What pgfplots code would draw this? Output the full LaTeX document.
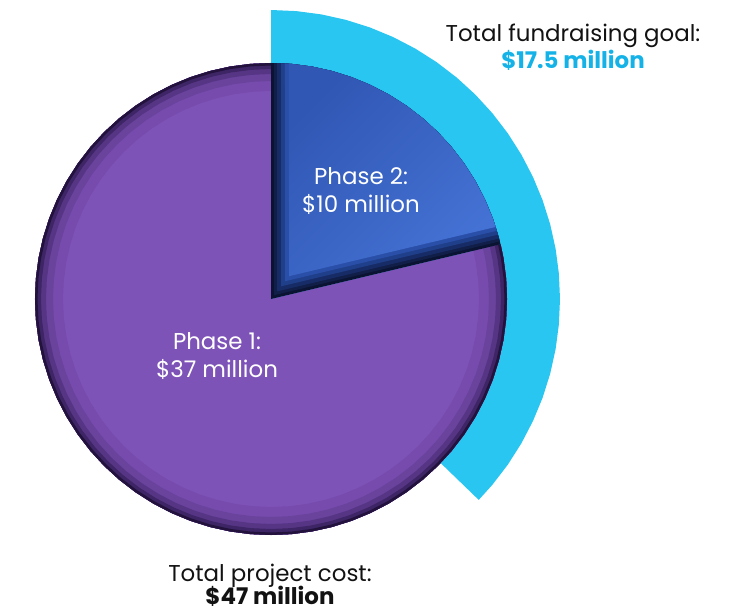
\documentclass[border=0pt]{standalone}
\usepackage{pgfplots}
\usepackage{pgfplotstable}
\pgfplotsset{compat=1.18}
\usepgfplotslibrary{polar}
\usepackage{fontspec}
\setmainfont{Poppins}

\definecolor{ringcyan}{HTML}{28C6F1}
\definecolor{goalcyan}{HTML}{14B2E6}
\definecolor{pl0}{HTML}{7E53B8}
\definecolor{pl1}{HTML}{774BAD}
\definecolor{pl2}{HTML}{6A439D}
\definecolor{pl3}{HTML}{573585}
\definecolor{pl4}{HTML}{3E2566}
\definecolor{pl5}{HTML}{22123C}
\definecolor{bl0}{HTML}{0A1432}
\definecolor{bl1}{HTML}{101E48}
\definecolor{bl2}{HTML}{172C66}
\definecolor{bl3}{HTML}{203F8A}
\definecolor{bl4}{HTML}{2A4FA8}
\definecolor{bl5}{HTML}{3157B4}
\definecolor{bl6}{HTML}{4472D4}

% rim of phase 1 (angle, band radii), darker towards the edge
\pgfplotstableread{
a       r1   r2   r3     r4   r5
90      222  227  230.5  233  234.75
95      222  227  230.5  233  234.75
100     222  227  230.5  233  234.75
105     222  227  230.5  233  234.75
110     222  227  230.5  233  234.75
115     222  227  230.5  233  234.75
120     222  227  230.5  233  234.75
125     222  227  230.5  233  234.75
130     222  227  230.5  233  234.75
135     222  227  230.5  233  234.75
140     222  227  230.5  233  234.75
145     222  227  230.5  233  234.75
150     222  227  230.5  233  234.75
155     222  227  230.5  233  234.75
160     222  227  230.5  233  234.75
165     222  227  230.5  233  234.75
170     222  227  230.5  233  234.75
175     222  227  230.5  233  234.75
180     222  227  230.5  233  234.75
185     222  227  230.5  233  234.75
190     222  227  230.5  233  234.75
195     222  227  230.5  233  234.75
200     222  227  230.5  233  234.75
205     222  227  230.5  233  234.75
210     222  227  230.5  233  234.75
215     222  227  230.5  233  234.75
220     222  227  230.5  233  234.75
225     222  227  230.5  233  234.75
230     222  227  230.5  233  234.75
235     222  227  230.5  233  234.75
240     222  227  230.5  233  234.75
245     222  227  230.5  233  234.75
250     222  227  230.5  233  234.75
255     222  227  230.5  233  234.75
260     222  227  230.5  233  234.75
265     222  227  230.5  233  234.75
270     222  227  230.5  233  234.75
275     222  227  230.5  233  234.75
280     222  227  230.5  233  234.75
285     222  227  230.5  233  234.75
290     222  227  230.5  233  234.75
295     222  227  230.5  233  234.75
300     222  227  230.5  233  234.75
305     222  227  230.5  233  234.75
310     222  227  230.5  233  234.75
315     222  227  230.5  233  234.75
320     222  227  230.5  233  234.75
325     222  227  230.5  233  234.75
330     222  227  230.5  233  234.75
335     222  227  230.5  233  234.75
340     222  227  230.5  233  234.75
345     222  227  230.5  233  234.75
350     222  227  230.5  233  234.75
355     222  227  230.5  233  234.75
360     222  227  230.5  233  234.75
365     222  227  230.5  233  234.75
370     222  227  230.5  233  234.75
373.404 222  227  230.5  233  234.75
}\rimarc

\begin{document}
\begin{tikzpicture}
\begin{axis}[width=736bp, height=611bp, scale only axis, hide axis,
  xmin=-271, xmax=465, ymin=-312, ymax=299, clip=false]

% fundraising goal: 17.5 of 47 -> 90 down to -44.04 deg
\addplot[draw=none, fill=ringcyan, data cs=polar] coordinates {
 (0,0) (90,289) (85,289) (80,289) (75,289) (70,289) (65,289) (60,289)
 (55,289) (50,289) (45,289) (40,289) (35,289) (30,289) (25,289) (20,289)
 (15,289) (10,289) (5,289) (0,289) (-5,289) (-10,289) (-15,289) (-20,289)
 (-25,289) (-30,289) (-35,289) (-40,289) (-44.04,289)};

% phase 1: 37 of 47
\addplot[draw=none, fill=pl0, data cs=polar] coordinates {
 (0,0) (90,236) (95,236) (100,236) (105,236) (110,236) (115,236) (120,236)
 (125,236) (130,236) (135,236) (140,236) (145,236) (150,236) (155,236)
 (160,236) (165,236) (170,236) (175,236) (180,236) (185,236) (190,236)
 (195,236) (200,236) (205,236) (210,236) (215,236) (220,236) (225,236)
 (230,236) (235,236) (240,236) (245,236) (250,236) (255,236) (260,236)
 (265,236) (270,236) (275,236) (280,236) (285,236) (290,236) (295,236)
 (300,236) (305,236) (310,236) (315,236) (320,236) (325,236) (330,236)
 (335,236) (340,236) (345,236) (350,236) (355,236) (360,236) (365,236)
 (370,236) (373.404,236)};
% shaded rim
\addplot[draw=pl1, line width=28bp, data cs=polar] table[x=a, y=r1] {\rimarc};
\addplot[draw=pl2, line width=18bp, data cs=polar] table[x=a, y=r2] {\rimarc};
\addplot[draw=pl3, line width=11bp, data cs=polar] table[x=a, y=r3] {\rimarc};
\addplot[draw=pl4, line width=6bp, data cs=polar] table[x=a, y=r4] {\rimarc};
\addplot[draw=pl5, line width=2.5bp, data cs=polar] table[x=a, y=r5] {\rimarc};

% phase 2: 10 of 47, layered for the bevelled edges
\addplot[draw=none, fill=bl0, data cs=polar] coordinates {
 (0,0) (13.404,236) (15,236) (20,236) (25,236) (30,236) (35,236) (40,236)
 (45,236) (50,236) (55,236) (60,236) (65,236) (70,236) (75,236) (80,236)
 (85,236) (90,236)};
\addplot[draw=none, fill=bl1, data cs=polar] coordinates {
 (51.702,4.84) (14.13,236) (15,236) (20,236) (25,236) (30,236) (35,236)
 (40,236) (45,236) (50,236) (55,236) (60,236) (65,236) (70,236) (75,236)
 (80,236) (85,236) (89.27,236)};
\addplot[draw=none, fill=bl2, data cs=polar] coordinates {
 (51.702,9.68) (14.86,236) (15,236) (20,236) (25,236) (30,236) (35,236)
 (40,236) (45,236) (50,236) (55,236) (60,236) (65,236) (70,236) (75,236)
 (80,236) (85,236) (88.54,236)};
\addplot[draw=none, fill=bl3, data cs=polar] coordinates {
 (51.702,16.14) (15.83,236) (20,236) (25,236) (30,236) (35,236) (40,236)
 (45,236) (50,236) (55,236) (60,236) (65,236) (70,236) (75,236) (80,236)
 (85,236) (87.57,236)};
\addplot[draw=none, fill=bl4, data cs=polar] coordinates {
 (51.702,22.59) (16.81,236) (20,236) (25,236) (30,236) (35,236) (40,236)
 (45,236) (50,236) (55,236) (60,236) (65,236) (70,236) (75,236) (80,236)
 (85,236) (86.60,236)};
\addplot[draw=none, left color=bl5, right color=bl6, shading angle=45,
  data cs=polar] coordinates {
 (51.702,29.05) (17.78,236) (20,236) (25,236) (30,236) (35,236) (40,236)
 (45,236) (50,236) (55,236) (60,236) (65,236) (70,236) (75,236) (80,236)
 (85,236) (85.63,236)};

\begin{scope}[font=\fontsize{23}{27}\selectfont]
\node[anchor=base, text=white] at (axis cs:90,114) {Phase 2:};
\node[anchor=base, text=white] at (axis cs:90,86) {\$10 million};
\node[anchor=base, text=white] at (axis cs:-54,-51) {Phase 1:};
\node[anchor=base, text=white] at (axis cs:-54,-79) {\$37 million};
\node[anchor=base, text=black!93] at (axis cs:302,257) {Total fundraising goal:};
\node[anchor=base, text=goalcyan] at (axis cs:302,230) {\bfseries\$17.5 million};
\node[anchor=base, text=black!93] at (axis cs:-1,-282) {Total project cost:};
\node[anchor=base, text=black!93] at (axis cs:-1,-305.5) {\bfseries\$47 million};
\end{scope}
\end{axis}
\pgfresetboundingbox
\path (current axis.south west) rectangle (current axis.north east);
\end{tikzpicture}
\end{document}
